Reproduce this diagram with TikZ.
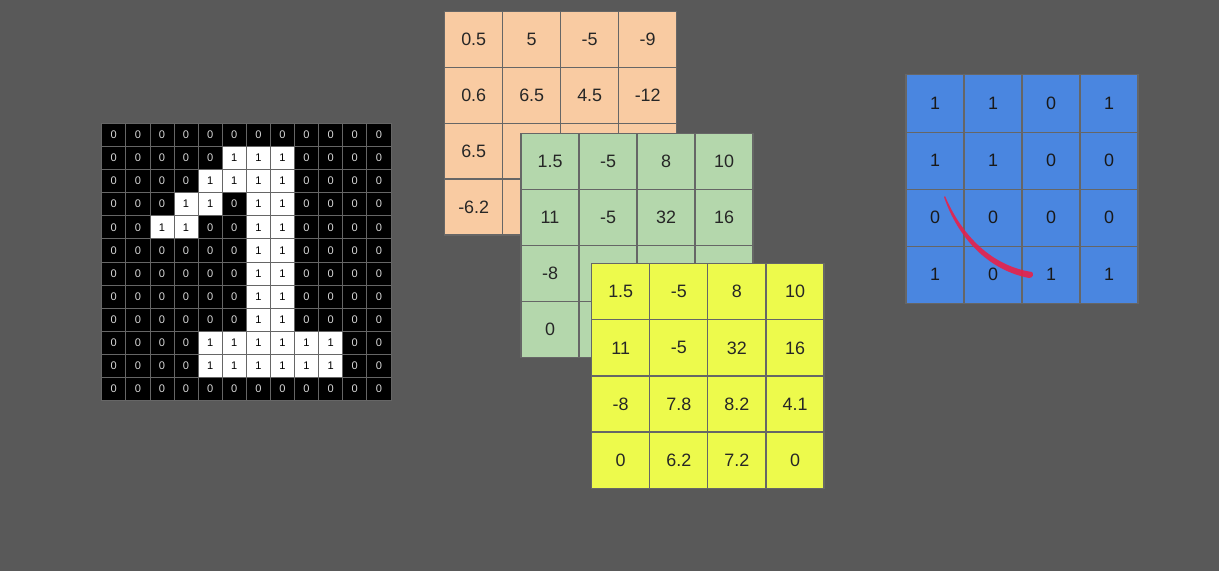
\documentclass[tikz,border=0pt]{standalone}
\usepackage{fontspec}
\setmainfont{Liberation Sans}
\usepackage{tikz}

\definecolor{bggray}{HTML}{595959}
\definecolor{gridline}{HTML}{666666}
\definecolor{peach}{HTML}{F9CBA2}
\definecolor{sage}{HTML}{B4D7AC}
\definecolor{lemon}{HTML}{EDFA4C}
\definecolor{sky}{HTML}{4A86E0}
\definecolor{ink}{HTML}{E8204A}

\tikzset{
  cell/.style={draw=gridline, line width=0.6pt, inner sep=0pt,
    minimum width=1.16cm, minimum height=1.12cm,
    font=\fontsize{10.2}{12}\selectfont, text=black!85},
  bit/.style={draw=gridline, line width=0.4pt, inner sep=0pt,
    minimum width=0.482cm, minimum height=0.462cm,
    font=\fontsize{6.3}{7}\selectfont},
  bit0/.style={bit, fill=black, text=white!85!black},
  bit1/.style={bit, fill=white, text=black}
}

\begin{document}
\begin{tikzpicture}[x=0.02cm, y=-0.02cm]
    \fill[bggray] (0,0) rectangle (1219,571);
    \useasboundingbox (0,0) rectangle (1219,571);

    % input image, 12x12 bits
    \foreach \r [count=\i from 0] in {
        {0,0,0,0,0,0,0,0,0,0,0,0},
        {0,0,0,0,0,1,1,1,0,0,0,0},
        {0,0,0,0,1,1,1,1,0,0,0,0},
        {0,0,0,1,1,0,1,1,0,0,0,0},
        {0,0,1,1,0,0,1,1,0,0,0,0},
        {0,0,0,0,0,0,1,1,0,0,0,0},
        {0,0,0,0,0,0,1,1,0,0,0,0},
        {0,0,0,0,0,0,1,1,0,0,0,0},
        {0,0,0,0,0,0,1,1,0,0,0,0},
        {0,0,0,0,1,1,1,1,1,1,0,0},
        {0,0,0,0,1,1,1,1,1,1,0,0},
        {0,0,0,0,0,0,0,0,0,0,0,0}}
      \foreach \v [count=\j from 0] in \r
        \node[bit\v] (img-\i-\j) at (113.75+24.1*\j, 134.85+23.1*\i) {\v};

    % orange map (partly covered)
    \foreach \r [count=\i from 0] in {{0.5,5,-5,-9},{0.6,6.5,4.5,-12},{6.5,,,},{-6.2,,,}}
      \foreach \v [count=\j from 0] in \r
        \node[cell, fill=peach] (org-\i-\j) at (473.7+58*\j, 39.6+55.8*\i) {\v};

    % green map
    \foreach \r [count=\i from 0] in {{1.5,-5,8,10},{11,-5,32,16},{-8,,,},{0,,,}}
      \foreach \v [count=\j from 0] in \r
        \node[cell, fill=sage] (grn-\i-\j) at (550+58*\j, 161.3+56*\i) {\v};

    % yellow map
    \foreach \r [count=\i from 0] in {{1.5,-5,8,10},{11,-5,32,16},{-8,7.8,8.2,4.1},{0,6.2,7.2,0}}
      \foreach \v [count=\j from 0] in \r
        \node[cell, fill=lemon] (ylw-\i-\j) at (620.7+58.1*\j, 291.8+56.1*\i) {\v};

    % blue map
    \foreach \r [count=\i from 0] in {{1,1,0,1},{1,1,0,0},{0,0,0,0},{1,0,1,1}}
      \foreach \v [count=\j from 0] in \r
        \node[cell, fill=sky, minimum height=1.142cm, text=black!90] (blu-\i-\j) at (935+58*\j, 103.5+57.1*\i) {\v};

    % pen stroke, thin at the top and thick at the end
    \fill[ink, opacity=0.9] (945,196) .. controls (962,236) and (992,266) .. (1032,272)
        .. controls (1034,274) and (1033,278) .. (1029,278)
        .. controls (988,270) and (958,238) .. (944,197) -- cycle;
\end{tikzpicture}
\end{document}
